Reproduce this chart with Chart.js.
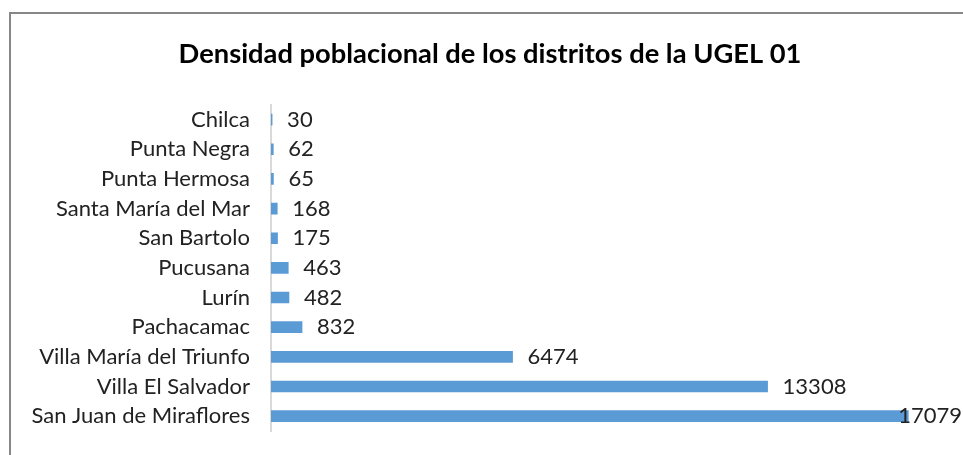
<!DOCTYPE html>
<html lang="es">
<head>
    <meta charset="UTF-8">
    <title>Densidad poblacional</title>
    <script src="https://cdn.jsdelivr.net/npm/chart.js"></script>
    <style>
        html, body { margin: 0; padding: 0; background: #fff; overflow: hidden; }
        .marco {
            position: absolute; left: 9px; top: 12px;
            width: 1000px; height: 500px;
            border: 2px solid #878787;
        }
        #myChart { position: absolute; left: 0; top: 0; }
    </style>
</head>
<body>
    <div class="marco"></div>
    <canvas id="myChart" width="980" height="455"></canvas>
    <script>
        const titulo = "Densidad poblacional de los distritos de la UGEL 01";
        const distritos = ["Chilca", "Punta Negra", "Punta Hermosa", "Santa María del Mar",
            "San Bartolo", "Pucusana", "Lurín", "Pachacamac", "Villa María del Triunfo",
            "Villa El Salvador", "San Juan de Miraflores"];
        const densidad = [30, 62, 65, 168, 175, 463, 482, 832, 6474, 13308, 17079];
        const ejeMax = 19000;

        // etiquetas de valor al final de cada barra
        const etiquetas = {
            id: "etiquetas",
            afterDatasetsDraw(chart) {
                const ctx = chart.ctx;
                const meta = chart.getDatasetMeta(0);
                ctx.save();
                ctx.font = "22px Lato";
                ctx.fillStyle = "#222";
                ctx.textBaseline = "middle";
                meta.data.forEach((bar, i) => {
                    const txt = String(densidad[i]);
                    const w = ctx.measureText(txt).width;
                    const x = Math.min(bar.x + 15, chart.width - 18 - w);
                    ctx.fillText(txt, x, bar.y);
                });
                ctx.restore();
            }
        };

        const config = {
            type: "bar",
            data: {
                labels: distritos,
                datasets: [{
                    data: densidad,
                    backgroundColor: "#5b9bd5",
                    barThickness: 11
                }]
            },
            options: {
                indexAxis: "y",
                responsive: false,
                animation: false,
                layout: { padding: { left: 0, right: 0, top: 0, bottom: 24 } },
                plugins: {
                    legend: { display: false },
                    tooltip: { enabled: false },
                    title: {
                        display: true,
                        text: titulo,
                        color: "#000",
                        font: { family: "Lato", size: 27.3, weight: "bold" },
                        padding: { top: 38, bottom: 34 }
                    }
                },
                scales: {
                    x: { display: false, min: 0, max: ejeMax },
                    y: {
                        grid: { display: false, drawTicks: false },
                        border: { display: true, color: "#d9d9d9", width: 2 },
                        ticks: {
                            color: "#222",
                            padding: 21,
                            font: { family: "Lato", size: 22 }
                        },
                        afterFit(scale) {
                            scale.width = 271;
                            scale.paddingTop = 0;
                            scale.paddingBottom = 0;
                        }
                    }
                }
            },
            plugins: [etiquetas]
        };

        new Chart(document.getElementById("myChart"), config);
    </script>
</body>
</html>
